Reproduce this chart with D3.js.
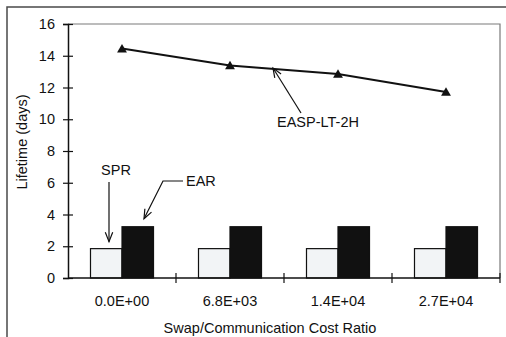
<!DOCTYPE html>
<html>
<head>
<meta charset="utf-8">
<script src="https://cdn.jsdelivr.net/npm/d3@7"></script>
<style>
  html, body { margin: 0; padding: 0; background: #fff; }
  svg { display: block; }
  text { font-family: "Liberation Sans", Arial, sans-serif; fill: #111; }
</style>
</head>
<body>
<svg id="chart" width="506" height="337"></svg>
<script>
// Swap/communication cost ratios on the x axis
const categories = ["0.0E+00", "6.8E+03", "1.4E+04", "2.7E+04"];
// Network lifetime in days for each scheme
const sprValues = [1.85, 1.85, 1.85, 1.85];
const earValues = [3.23, 3.23, 3.23, 3.23];
const easpValues = [14.45, 13.39, 12.85, 11.72];
const yTicks = [0, 2, 4, 6, 8, 10, 12, 14, 16];
const barSeries = ["SPR", "EAR"];

const svg = d3.select("#chart");
const W = 506, H = 337;
const margin = { left: 68, right: 6, top: 24, bottom: 59 };
const plotW = W - margin.left - margin.right;   // 432
const plotH = H - margin.top - margin.bottom;   // 254

// outer frame around the figure
svg.append("rect")
  .attr("x", 7).attr("y", 7)
  .attr("width", W + 10).attr("height", H + 10)
  .attr("fill", "none").attr("stroke", "#4a4a4a").attr("stroke-width", 1.5);

const x = d3.scaleBand().domain(categories).range([margin.left, margin.left + plotW]).padding(0);
const xSeries = d3.scaleBand().domain(barSeries).range([0, x.bandwidth()]).paddingInner(0).paddingOuter(0.714);
const y = d3.scaleLinear().domain([0, 16]).range([margin.top + plotH, margin.top]);

// plot area border (top and right)
svg.append("path")
  .attr("d", `M${margin.left},${y(16)}H${margin.left + plotW}V${y(0)}`)
  .attr("fill", "none").attr("stroke", "#7a7a7a").attr("stroke-width", 1.2);

// bars
const barData = [];
categories.forEach((c, i) => {
  barData.push({ cat: c, key: "SPR", v: sprValues[i] });
  barData.push({ cat: c, key: "EAR", v: earValues[i] });
});
svg.append("g").selectAll("rect").data(barData).join("rect")
  .attr("x", d => x(d.cat) + xSeries(d.key))
  .attr("y", d => y(d.v))
  .attr("width", xSeries.bandwidth())
  .attr("height", d => y(0) - y(d.v))
  .attr("fill", d => d.key === "SPR" ? "#f2f4f6" : "#111")
  .attr("stroke", "#111").attr("stroke-width", 1.2);

// y axis
const yAxis = svg.append("g").attr("transform", `translate(${margin.left},0)`)
  .call(d3.axisLeft(y).tickValues(yTicks).tickSize(5).tickPadding(8).tickFormat(d3.format("d")));
yAxis.select(".domain").attr("stroke", "#111").attr("stroke-width", 1.5);
yAxis.selectAll(".tick line").attr("x2", 5).attr("x1", -5).attr("stroke", "#111").attr("stroke-width", 1.2);
yAxis.selectAll(".tick text").attr("x", -13).attr("font-size", 14.5)
  .style("font-family", "'Liberation Sans', Arial, sans-serif").attr("fill", "#111");

// x axis: ticks sit on the category boundaries
const boundaries = categories.map(c => x(c) + x.bandwidth());
const xg = svg.append("g");
xg.append("line")
  .attr("x1", margin.left).attr("x2", margin.left + plotW)
  .attr("y1", y(0)).attr("y2", y(0))
  .attr("stroke", "#111").attr("stroke-width", 1.5);
xg.selectAll("line.tk").data(boundaries).join("line").attr("class", "tk")
  .attr("x1", d => d).attr("x2", d => d)
  .attr("y1", y(0) - 5).attr("y2", y(0) + 5)
  .attr("stroke", "#111").attr("stroke-width", 1.2);
xg.selectAll("text").data(categories).join("text")
  .attr("x", d => x(d) + x.bandwidth() / 2)
  .attr("y", 306)
  .attr("text-anchor", "middle")
  .attr("font-size", 14.5)
  .text(d => d);

// EASP-LT-2H line with triangle markers
const lineGen = d3.line().x((d, i) => x(categories[i]) + x.bandwidth() / 2).y(d => y(d));
svg.append("path").datum(easpValues)
  .attr("d", lineGen).attr("fill", "none").attr("stroke", "#111").attr("stroke-width", 2);
svg.append("g").selectAll("path").data(easpValues).join("path")
  .attr("transform", (d, i) => `translate(${x(categories[i]) + x.bandwidth() / 2},${y(d) + 1})`)
  .attr("d", d3.symbol(d3.symbolTriangle, 42)).attr("fill", "#111");

// axis titles
svg.append("text")
  .attr("transform", "translate(27,142) rotate(-90)")
  .attr("text-anchor", "middle").attr("font-size", 14.5)
  .text("Lifetime (days)");
svg.append("text")
  .attr("x", 270).attr("y", 333)
  .attr("text-anchor", "middle").attr("font-size", 14.5)
  .text("Swap/Communication Cost Ratio");

// annotation arrows
function arrowHead(tip, from, len, spread) {
  const ang = Math.atan2(from[1] - tip[1], from[0] - tip[0]);
  const a1 = ang + spread, a2 = ang - spread;
  return `M${tip[0] + len * Math.cos(a1)},${tip[1] + len * Math.sin(a1)}L${tip[0]},${tip[1]}L${tip[0] + len * Math.cos(a2)},${tip[1] + len * Math.sin(a2)}`;
}
const ann = svg.append("g").attr("fill", "none").attr("stroke", "#111").attr("stroke-width", 1.2);

// EASP-LT-2H label and arrow
const easpTip = [273, 68], easpTail = [301, 113];
ann.append("path").attr("d", `M${easpTail[0]},${easpTail[1]}L${easpTip[0]},${easpTip[1]}`);
ann.append("path").attr("d", arrowHead(easpTip, easpTail, 10, 0.38));
svg.append("text").attr("x", 277).attr("y", 127).attr("font-size", 14.5).text("EASP-LT-2H");

// SPR label and arrow
const sprTip = [109, y(sprValues[0]) - 7], sprTail = [109, 182];
ann.append("path").attr("d", `M${sprTail[0]},${sprTail[1]}L${sprTip[0]},${sprTip[1]}`);
ann.append("path").attr("d", arrowHead(sprTip, sprTail, 10, 0.38));
svg.append("text").attr("x", 116).attr("y", 175).attr("text-anchor", "middle").attr("font-size", 14.5).text("SPR");

// EAR label and arrow
const earTip = [144, y(earValues[0]) - 8], earElbow = [163, 181];
ann.append("path").attr("d", `M183,181L${earElbow[0]},${earElbow[1]}L${earTip[0]},${earTip[1]}`);
ann.append("path").attr("d", arrowHead(earTip, earElbow, 10, 0.38));
svg.append("text").attr("x", 186).attr("y", 186).attr("font-size", 14.5).text("EAR");
</script>
</body>
</html>
